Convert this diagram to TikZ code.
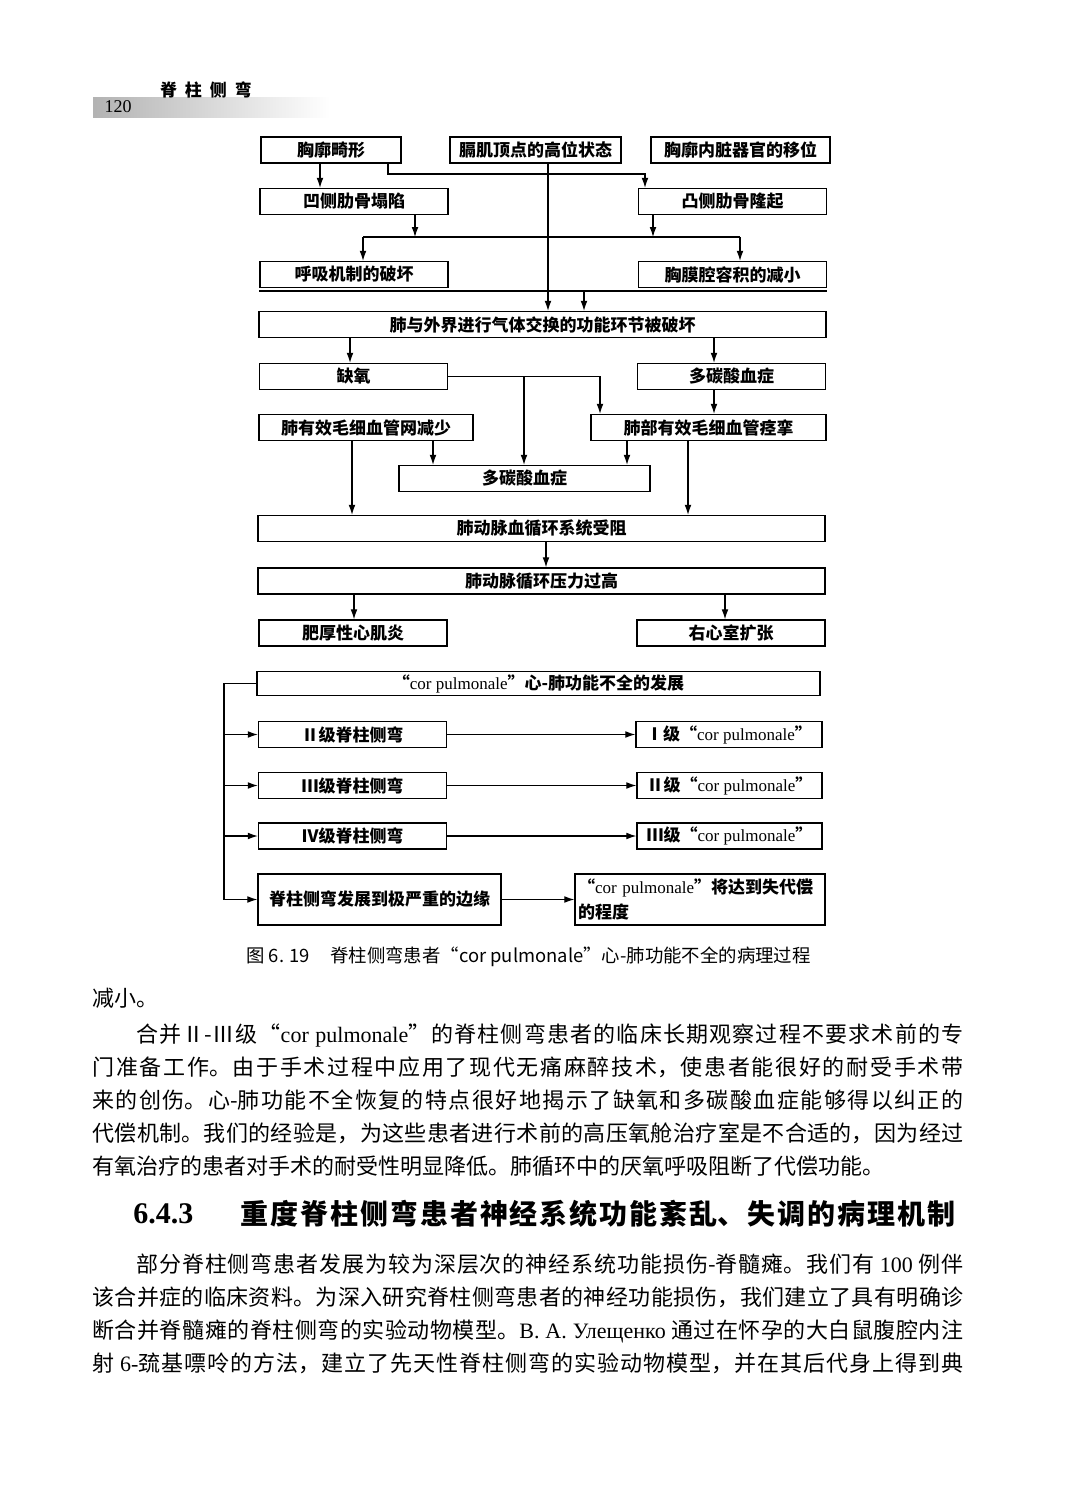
\documentclass[tikz,border=0pt]{standalone}
\usepackage{fontspec}
\setmainfont{Noto Sans CJK SC}
\newfontfamily\tnr{Liberation Serif}
\usepackage{tikz}
\usetikzlibrary{arrows.meta, positioning, calc}
\XeTeXlinebreaklocale "zh"
\XeTeXlinebreakskip=0pt plus 1.5pt
\newcommand{\boxfont}{\fontsize{8.5pt}{10pt}\selectfont\bfseries}
\newcommand{\cpname}{{\tnr\mdseries cor pulmonale}}
\newcommand{\fullline}{\parfillskip=0pt\par}
\tikzset{
  block/.style={rectangle, draw=black, fill=white, minimum height=13pt, inner sep=1pt, font=\boxfont, line width=0.7pt},
  arrow/.style={-{Latex[length=5pt,width=3.4pt]}, line width=0.55pt, color=black},
  line/.style={line width=0.55pt, color=black},
  bodytext/.style={anchor=north west, inner sep=0pt, text width=435.5pt, align=justify, font={\fontsize{11pt}{16.5pt}\selectfont}}
}

\begin{document}
\begin{tikzpicture}[
  x=0.5pt, y=-0.5pt,
  sblock/.style={block, minimum width=94pt},
  wblock/.style={block, minimum width=283.5pt}
]
  \useasboundingbox (0,0) rectangle (1080,1511);
  \fill[white] (0,0) rectangle (1080,1511);

  % page header
  \shade[left color=black!30, right color=white] (93,97) rectangle (330,117);
  \node[font={\fontsize{9pt}{10pt}\selectfont\tnr}] (pageno) at (118,107) {120};
  \node[font={\fontsize{8.5pt}{10pt}\selectfont\bfseries}] (running) at (206,90) {脊\hspace{4pt}柱\hspace{4pt}侧\hspace{4pt}弯};

  % columns and levels for the connectors
  \foreach \c in {224,320,350,352,354,363,388,415,433,524,546,548,584,600,627,645,653,688,714,725,740}
    \coordinate (x\c) at (\c,0);
  \foreach \r in {174,237,291}
    \coordinate (y\r) at (0,\r);

  % upper chart
  \node[block, minimum width=70pt] (jx) at (331,150) {胸廓畸形};
  \node[block, minimum width=85.5pt] (gj) at (535.5,150) {膈肌顶点的高位状态};
  \node[block, minimum width=89.5pt] (nz) at (740.5,150) {胸廓内脏器官的移位};
  \node[sblock] (ao) at (354,201.5) {凹侧肋骨塌陷};
  \node[sblock] (tu) at (732.5,201.5) {凸侧肋骨隆起};
  \node[sblock] (hx) at (354,274.5) {呼吸机制的破坏};
  \node[sblock] (xm) at (732.5,274.5) {胸膜腔容积的减小};
  \node[wblock] (qt) at (542.5,324.5) {肺与外界进行气体交换的功能环节被破坏};
  \node[sblock] (qy) at (353.5,376.5) {缺氧};
  \node[sblock] (dt1) at (731.5,376.5) {多碳酸血症};
  \node[block, minimum width=107pt] (mx) at (366,427.5) {肺有效毛细血管网减少};
  \node[block, minimum width=117.5pt] (jl) at (708.5,427.5) {肺部有效毛细血管痉挛};
  \node[block, minimum width=125.5pt] (dt2) at (524.5,478.5) {多碳酸血症};
  \node[wblock] (zs) at (541.5,528.5) {肺动脉血循环系统受阻};
  \node[wblock] (yl) at (541.5,581) {肺动脉循环压力过高};
  \node[sblock] (fh) at (353,633) {肥厚性心肌炎};
  \node[sblock] (yx) at (731,633) {右心室扩张};

  \draw[arrow] (jx.south -| x320) -- (ao.north -| x320);
  \draw[arrow] (jx.south -| x388) |- (x645 |- y174) -- (tu.north -| x645);
  \draw[arrow] (gj.south -| x548) -- (qt.north -| x548);
  \draw[arrow] (ao.south -| x415) -- (x415 |- y237);
  \draw[arrow] (tu.south -| x653) -- (x653 |- y237);
  \draw[line] (x363 |- y237) -- (x740 |- y237);
  \draw[arrow] (x363 |- y237) -- (hx.north -| x363);
  \draw[arrow] (x740 |- y237) -- (xm.north -| x740);
  \draw[line] (hx.south west |- y291) -- (xm.south east |- y291);
  \draw[arrow] (x584 |- y291) -- (qt.north -| x584);
  \draw[arrow] (qt.south -| x350) -- (qy.north -| x350);
  \draw[arrow] (qt.south -| x714) -- (dt1.north -| x714);
  \draw[arrow] (qy.east) -| (x600 |- jl.north);
  \draw[arrow] (qy.east -| x524) -- (dt2.north -| x524);
  \draw[arrow] (dt1.south -| x714) -- (jl.north -| x714);
  \draw[arrow] (mx.south -| x433) -- (dt2.north -| x433);
  \draw[arrow] (jl.south -| x627) -- (dt2.north -| x627);
  \draw[arrow] (mx.south -| x352) -- (zs.north -| x352);
  \draw[arrow] (jl.south -| x688) -- (zs.north -| x688);
  \draw[arrow] (zs.south -| x546) -- (yl.north -| x546);
  \draw[arrow] (yl.south -| x354) -- (fh.north -| x354);
  \draw[arrow] (yl.south -| x725) -- (yx.north -| x725);

  % lower chart
  \node[block, minimum width=281.5pt, minimum height=12pt] (cp) at (538.5,683.5) {“\cpname”心-肺功能不全的发展};
  \node[sblock] (s2) at (352.5,734.5) {Ⅱ级脊柱侧弯};
  \node[sblock, minimum width=93pt] (c1) at (729,734.5) {Ⅰ级“\cpname”};
  \node[sblock] (s3) at (352.5,785.5) {Ⅲ级脊柱侧弯};
  \node[sblock, minimum width=92.5pt] (c2) at (729.5,785.5) {Ⅱ级“\cpname”};
  \node[sblock] (s4) at (352.5,836) {Ⅳ级脊柱侧弯};
  \node[sblock, minimum width=92.5pt] (c3) at (729.5,836) {Ⅲ级“\cpname”};
  \node[block, minimum width=121.5pt, minimum height=25.5pt] (sj) at (379.5,899.5) {脊柱侧弯发展到极严重的边缘};
  \node[block, minimum width=125pt, minimum height=25.5pt, text width=122pt, align=left,
        font={\fontsize{8.5pt}{12.5pt}\selectfont\bfseries}] (sd) at (700,899.5) {“\cpname”将达到失代偿\\的程度};

  \draw[line] (cp.west) -| (x224 |- sj.west);
  \foreach \s in {s2,s3,s4,sj}
    \draw[arrow] (x224 |- \s.west) -- (\s.west);
  \draw[arrow] (s2) -- (c1);
  \draw[arrow] (s3) -- (c2);
  \draw[arrow] (s4) -- (c3);
  \draw[arrow] (sj) -- (sd);

  % caption and page text
  \node[anchor=west, inner sep=0pt, font={\fontsize{9.2pt}{10pt}\selectfont}] (caption) at (246,957)
    {图 6. 19\hspace{1.1em}脊柱侧弯患者“cor pulmonale”心-肺功能不全的病理过程};

  \node[bodytext] (para0) at (92,988) {减小。};
  \node[bodytext] (para1) at (92,1023) {\hspace*{2em}合并Ⅱ-Ⅲ级“\cpname”的脊柱侧弯患者的临床长期观察过程不要求术前的专\linebreak
    门准备工作。由于手术过程中应用了现代无痛麻醉技术，使患者能很好的耐受手术带\linebreak
    来的创伤。心-肺功能不全恢复的特点很好地揭示了缺氧和多碳酸血症能够得以纠正的\linebreak
    代偿机制。我们的经验是，为这些患者进行术前的高压氧舱治疗室是不合适的，因为经过\linebreak
    有氧治疗的患者对手术的耐受性明显降低。肺循环中的厌氧呼吸阻断了代偿功能。};

  \node[anchor=west, inner sep=0pt, font={\fontsize{15pt}{16pt}\selectfont\tnr\bfseries}] (secno) at (133,1214) {6.4.3};
  \node[anchor=north west, inner sep=0pt, text width=357.5pt, align=justify,
        font={\fontsize{14pt}{16pt}\selectfont\bfseries}] (section) at (240,1200)
    {重度脊柱侧弯患者神经系统功能紊乱、失调的病理机制\fullline};

  \node[bodytext] (para2) at (92,1253) {\hspace*{2em}部分脊柱侧弯患者发展为较为深层次的神经系统功能损伤-脊髓瘫。我们有 {\tnr 100} 例伴\linebreak
    该合并症的临床资料。为深入研究脊柱侧弯患者的神经功能损伤，我们建立了具有明确诊\linebreak
    断合并脊髓瘫的脊柱侧弯的实验动物模型。{\tnr B. A. Улещенко} 通过在怀孕的大白鼠腹腔内注\linebreak
    射 {\tnr 6-}巯基嘌呤的方法，建立了先天性脊柱侧弯的实验动物模型，并在其后代身上得到典\fullline};
\end{tikzpicture}
\end{document}
